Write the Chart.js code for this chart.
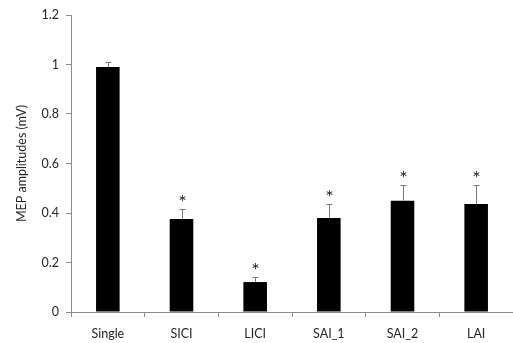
<!DOCTYPE html>
<html><head><meta charset="utf-8">
<script src="https://cdn.jsdelivr.net/npm/chart.js@4"></script>
<style>html,body{margin:0;padding:0;background:#fff}#wrap{width:513px;height:343px}</style>
</head><body><div id="wrap"><canvas id="c" width="513" height="343"></canvas></div>
<script>
const categories = ["Single", "SICI", "LICI", "SAI_1", "SAI_2", "LAI"];
const means = [0.99, 0.376, 0.121, 0.38, 0.45, 0.436];
const errors = [0.022, 0.04, 0.02, 0.056, 0.064, 0.078];
const significant = [false, true, true, true, true, true];
const yTicks = [0, 0.2, 0.4, 0.6, 0.8, 1, 1.2];

const FONT = "Lato, 'Open Sans', sans-serif";
const TXT = '#262626';
const AX = '#8c8c8c';

const errPlugin = {
  id: 'errbars',
  afterDatasetsDraw(chart) {
    const ctx = chart.ctx, xs = chart.scales.x, ys = chart.scales.y;
    ctx.save();
    means.forEach((m, i) => {
      const x = Math.round(xs.getPixelForValue(i)) + 0.5;
      const y0 = ys.getPixelForValue(m);
      const y1 = Math.round(ys.getPixelForValue(m + errors[i])) + 0.5;
      ctx.strokeStyle = '#7a7a7a';
      ctx.lineWidth = 1;
      ctx.beginPath();
      ctx.moveTo(x, y0); ctx.lineTo(x, y1);
      ctx.moveTo(x - 3, y1); ctx.lineTo(x + 3, y1);
      ctx.stroke();
      if (significant[i]) {
        ctx.fillStyle = '#2a2a2a';
        ctx.font = '20px ' + FONT;
        ctx.textAlign = 'center';
        ctx.textBaseline = 'middle';
        ctx.fillText('*', x, y1 - 7);
      }
    });
    ctx.restore();
  }
};

new Chart(document.getElementById('c'), {
  type: 'bar',
  data: {
    labels: categories,
    datasets: [{
      data: means,
      backgroundColor: '#000',
      borderColor: '#000',
      borderWidth: 0,
      categoryPercentage: 1,
      barPercentage: 0.32
    }]
  },
  options: {
    responsive: false,
    animation: false,
    devicePixelRatio: 1,
    layout: { padding: { top: 15, right: 0, left: 0, bottom: 0 } },
    plugins: { legend: { display: false }, tooltip: { enabled: false } },
    scales: {
      x: {
        grid: { display: true, drawOnChartArea: false, color: AX, tickLength: 5, offset: true },
        border: { color: AX, width: 1 },
        ticks: { color: TXT, font: { family: FONT, size: 12.5 }, padding: 9, maxRotation: 0 },
        afterFit(s) { s.height = 31; }
      },
      y: {
        min: 0, max: 1.2,
        afterBuildTicks(s) { s.ticks = yTicks.map(v => ({ value: v })); },
        grid: { display: true, drawOnChartArea: false, color: AX, tickLength: 5 },
        border: { color: AX, width: 1 },
        ticks: { color: TXT, font: { family: FONT, size: 12.5 }, padding: 7,
          callback: v => String(v) },
        title: { display: true, text: 'MEP amplitudes (mV)', color: TXT,
          font: { family: FONT, size: 12.5 }, padding: { top: 14, bottom: 4 } },
        afterFit(s) { s.width = 71; }
      }
    }
  },
  plugins: [errPlugin]
});
</script></body></html>
